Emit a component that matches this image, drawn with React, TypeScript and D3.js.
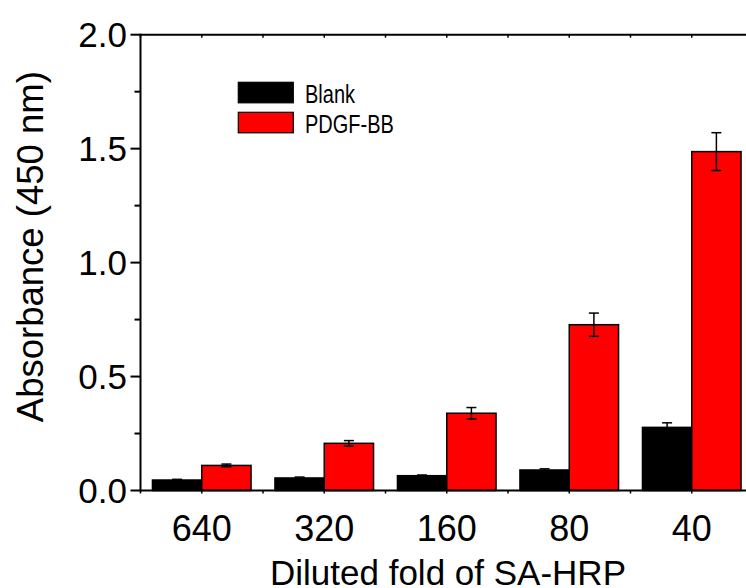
import React from 'react';
import * as d3 from 'd3';

const categories = ['640', '320', '160', '80', '40'];
const seriesNames = ['Blank', 'PDGF-BB'];
const blankValues = [0.046, 0.055, 0.065, 0.09, 0.277];
const blankErrors = [0.003, 0.004, 0.003, 0.005, 0.02];
const pdgfValues = [0.11, 0.207, 0.339, 0.7275, 1.487];
const pdgfErrors = [0.006, 0.012, 0.025, 0.051, 0.083];
const yTicks = [0, 0.5, 1.0, 1.5, 2.0];
const yMinorTicks = [0.25, 0.75, 1.25, 1.75];

const W = 746;
const H = 588;
const FONT = "'Liberation Sans', Arial, Helvetica, sans-serif";

export default function App() {
  const left = 140.5;
  const step = 122.5;
  const x = d3.scaleBand<string>().domain(categories).range([left, left + step * categories.length]).padding(0);
  const xs = d3.scaleBand<string>().domain(seriesNames).range([0, x.bandwidth()]).paddingInner(0).paddingOuter(0.2425);
  const y = d3.scaleLinear().domain([0, 2]).range([490.5, 34.7]);

  const series = [
    { name: 'Blank', values: blankValues, errors: blankErrors, fill: '#000000' },
    { name: 'PDGF-BB', values: pdgfValues, errors: pdgfErrors, fill: '#ff0000' },
  ];

  const y0 = y(0);
  const yTop = y(2);
  const right = W + 10;

  const boundaries = categories.map((c) => x(c)!).concat([left + step * categories.length]);
  const centers = categories.map((c) => x(c)! + x.bandwidth() / 2);

  return (
    <svg width={W} height={H} style={{ position: 'absolute', left: 0, top: 0, background: '#fff' }}>
      <rect x={0} y={0} width={W} height={H} fill="#fff" />
      {/* bars */}
      {series.map((s) => (
        <g key={s.name}>
          {categories.map((c, i) => {
            const bx = x(c)! + xs(s.name)!;
            const bw = xs.bandwidth();
            const top = y(s.values[i]);
            return (
              <rect
                key={c}
                x={bx}
                y={top}
                width={bw}
                height={y0 - top}
                fill={s.fill}
                stroke="#000"
                strokeWidth={1.5}
              />
            );
          })}
        </g>
      ))}
      {/* error bars */}
      {series.map((s) => (
        <g key={s.name + '-err'} stroke="#000" strokeWidth={1.5}>
          {categories.map((c, i) => {
            const cx = x(c)! + xs(s.name)! + xs.bandwidth() / 2;
            const hi = y(s.values[i] + s.errors[i]);
            const lo = y(s.values[i] - s.errors[i]);
            return (
              <g key={c}>
                <line x1={cx} x2={cx} y1={hi} y2={lo} />
                <line x1={cx - 5} x2={cx + 5} y1={hi} y2={hi} />
                <line x1={cx - 5} x2={cx + 5} y1={lo} y2={lo} />
              </g>
            );
          })}
        </g>
      ))}
      {/* axes */}
      <g stroke="#000" strokeWidth={2} fill="none">
        <line x1={left} x2={left} y1={yTop - 1} y2={y0 + 1} />
        <line x1={left} x2={right} y1={yTop} y2={yTop} />
        <line x1={left} x2={right} y1={y0} y2={y0} />
        {yTicks.map((t) => (
          <line key={t} x1={left - 10} x2={left} y1={y(t)} y2={y(t)} />
        ))}
        {yMinorTicks.map((t) => (
          <line key={t} x1={left - 6} x2={left} y1={y(t)} y2={y(t)} />
        ))}
        {boundaries.concat(centers).map((bx, i) => (
          <g key={i}>
            <line x1={bx} x2={bx} y1={y0} y2={y0 + 3} strokeWidth={1.5} />
            <line x1={bx} x2={bx} y1={yTop} y2={yTop + 3} strokeWidth={1.5} />
          </g>
        ))}
      </g>
      {/* y tick labels */}
      {yTicks.map((t) => (
        <text
          key={t}
          x={127}
          y={y(t) + 12}
          textAnchor="end"
          fontFamily={FONT}
          fontSize={35}
          fill="#000"
        >
          {d3.format('.1f')(t)}
        </text>
      ))}
      {/* x tick labels */}
      {categories.map((c) => (
        <text
          key={c}
          x={x(c)! + x.bandwidth() / 2}
          y={541}
          textAnchor="middle"
          fontFamily={FONT}
          fontSize={36}
          fill="#000"
        >
          {c}
        </text>
      ))}
      {/* axis titles */}
      <text
        x={448}
        y={585}
        textAnchor="middle"
        fontFamily={FONT}
        fontSize={35}
        fill="#000"
      >
        Diluted fold of SA-HRP
      </text>
      <text
        transform={`translate(43,246.7) rotate(-90)`}
        textAnchor="middle"
        fontFamily={FONT}
        fontSize={36.5}
        fill="#000"
      >
        Absorbance (450 nm)
      </text>
      {/* legend */}
      {series.map((s, i) => (
        <g key={s.name + '-leg'}>
          <rect x={238.3} y={82.3 + i * 30} width={55} height={20.5} fill={s.fill} stroke="#000" strokeWidth={1.2} />
          <text
            transform={`translate(305,${102.5 + i * 30}) scale(0.8,1)`}
            fontFamily={FONT}
            fontSize={25}
            fill="#000"
          >
            {s.name}
          </text>
        </g>
      ))}
    </svg>
  );
}
